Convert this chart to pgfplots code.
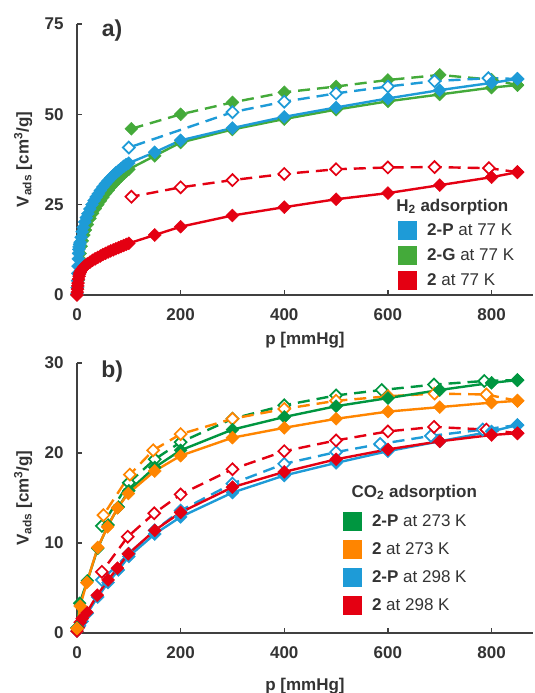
\documentclass[border=0pt]{standalone}
\usepackage{pgfplots}
\pgfplotsset{compat=1.18}
\usepackage{fontspec}
\setmainfont{Liberation Sans}

\definecolor{cblue}{RGB}{30,155,215}
\definecolor{cgreen}{RGB}{68,170,58}
\definecolor{cred}{RGB}{228,0,18}
\definecolor{cdgreen}{RGB}{0,150,64}
\definecolor{corange}{RGB}{255,133,0}
\definecolor{txt}{RGB}{51,51,51}
\definecolor{axc}{RGB}{64,64,64}

\newcommand\fs{\fontsize{17}{20}\selectfont}

\pgfplotsset{
  iso/.style={
    scale only axis, width=456pt,
    axis lines=left, axis line style={-, axc, line width=1.6pt},
    xmin=0, xmax=880, ymin=0,
    xtick={0,200,...,800},
    tick align=inside, major tick length=5pt,
    tick style={axc, line width=1.3pt},
    /pgf/number format/assume math mode=true,
    ticklabel style={font=\fs\bfseries, text=txt},
    xticklabel style={yshift=-10pt},
    yticklabel style={xshift=-10pt},
    ylabel={V\textsubscript{ads} [cm\textsuperscript{3}/g]},
    xlabel={p [mmHg]},
    every axis y label/.style={at={(axis description cs:-0.118,0.5)}, rotate=90, anchor=center, font=\fs\bfseries, text=txt},
    clip=false,
    legend cell align=left,
    legend style={draw=none, fill=none, inner sep=0pt, font=\fs, text=txt,
      anchor=north west, column sep=8pt, nodes={inner sep=2pt, text depth=0.15em}},
    legend image code/.code={\fill[draw=none] (0pt,-9.5pt) rectangle (19pt,9.5pt);},
  },
  ads/.style={#1, line width=2.4pt, mark=square*, mark size=4.6pt,
    mark options={rotate=45, fill=#1, draw=#1, line width=0.4pt, solid}},
  desf/.style={#1, line width=2.4pt, dash pattern=on 12pt off 7pt, mark=square*, mark size=4.6pt,
    mark options={rotate=45, fill=#1, draw=#1, line width=0.4pt, solid}},
  des/.style={#1, line width=2.4pt, dash pattern=on 12pt off 7pt, mark=square*, mark size=4.2pt,
    mark options={rotate=45, fill=white, draw=#1, line width=1.7pt, solid}},
}

\begin{document}
\begin{tikzpicture}
\path[use as bounding box] (0,0) rectangle (535pt,693pt);

% ---- a) H2 at 77 K
\begin{axis}[iso, at={(77pt,398pt)}, anchor=south west, height=271pt,
  ymax=75, ytick={0,25,50,75},
  every axis x label/.style={at={(axis description cs:0.5,-0.166)}, anchor=center, font=\fs\bfseries, text=txt},
  legend style={at={(rel axis cs:0.704,0.275)}, row sep=6pt}]
\addplot[desf=cgreen, forget plot] coordinates {(850,58.1) (800,59.6) (700,60.9) (600,59.5) (500,57.7) (400,56.1) (300,53.3) (200,50.0) (105,46.0)};
\addplot[des=cblue, forget plot] coordinates {(850,59.8) (794,60.0) (690,59.2) (600,57.7) (500,55.8) (400,53.5) (300,50.6) (100,40.8)};
\addplot[des=cred, forget plot] coordinates {(850,34.0) (795,35.1) (690,35.4) (600,35.3) (500,34.8) (400,33.5) (300,31.8) (200,29.8) (105,27.2)};
\addplot[ads=cgreen, forget plot] coordinates {(0,0.2) (1,2) (2,4) (3,6) (4,8) (5,10) (6,11.5) (8,13.5) (10,15) (13,16.6) (16,18) (20,19.5) (25,21.2) (30,22.6) (35,23.9) (40,25) (45,26.1) (50,27.1) (55,28.1) (60,29) (65,29.9) (70,30.7) (75,31.5) (80,32.2) (85,32.9) (90,33.6) (95,34.2) (100,34.8) (150,38.5) (200,42.2) (300,45.8) (400,48.7) (500,51.3) (600,53.6) (700,55.5) (800,57.4) (850,58.1)};
\addplot[ads=cblue, forget plot] coordinates {(0,0.3) (0.5,2) (1,4) (1.5,6) (2,8) (2.5,10) (3,11.5) (3.5,12.6) (4,13.3) (5,14) (6,14.6) (8,16) (10,17.5) (12,18.7) (15,20.2) (18,21.4) (21,22.5) (25,23.8) (29,25) (33,26.1) (37,27.1) (41,28) (45,28.9) (50,29.9) (55,30.8) (60,31.6) (65,32.4) (70,33.1) (75,33.8) (80,34.4) (85,35) (90,35.6) (95,36.1) (100,36.5) (150,39.5) (200,42.8) (300,46.2) (400,49.3) (500,51.9) (600,54.4) (700,56.7) (800,58.7) (850,59.8)};
\addplot[ads=cred, forget plot] coordinates {(0,0) (0.5,0.8) (1,1.6) (1.5,2.5) (2,3.3) (3,4.4) (4,5.2) (5,5.8) (6,6.2) (8,6.8) (10,7.2) (13,7.7) (16,8.1) (20,8.6) (25,9.1) (30,9.6) (35,10) (40,10.4) (45,10.8) (50,11.2) (55,11.5) (60,11.9) (65,12.2) (70,12.5) (75,12.8) (80,13.1) (85,13.4) (90,13.7) (95,14) (100,14.3) (150,16.6) (200,18.9) (300,22) (400,24.3) (500,26.5) (600,28.2) (700,30.4) (800,32.6) (850,34)};
\addlegendimage{cblue, fill=cblue}
\addlegendentry{\textbf{2-P} at 77 K}
\addlegendimage{cgreen, fill=cgreen}
\addlegendentry{\textbf{2-G} at 77 K}
\addlegendimage{cred, fill=cred}
\addlegendentry{\textbf{2} at 77 K}
\node[anchor=west, inner sep=0pt, font=\fs\bfseries, text=txt] at (rel axis cs:0.700,0.325) {H\textsubscript{2} adsorption};
\node[font=\fontsize{23}{26}\selectfont\bfseries, text=txt] at (rel axis cs:0.077,0.975) {a)};
\end{axis}

% ---- b) CO2
\begin{axis}[iso, at={(77pt,60pt)}, anchor=south west, height=270pt,
  ymax=30, ytick={0,10,20,30},
  every axis x label/.style={at={(axis description cs:0.5,-0.196)}, anchor=center, font=\fs\bfseries, text=txt},
  legend style={at={(rel axis cs:0.583,0.448)}, row sep=9pt}]
\addplot[des=cblue, forget plot] coordinates {(850,23.1) (783,22.6) (683,21.9) (585,21.0) (500,20.1) (400,18.8) (300,16.6) (200,13.6) (150,11.4) (100,8.8) (48,5.9)};
\addplot[des=cred, forget plot] coordinates {(850,22.2) (790,22.6) (689,22.9) (600,22.4) (500,21.4) (400,20.2) (300,18.2) (200,15.4) (149,13.3) (98,10.7) (48,6.8)};
\addplot[des=cdgreen, forget plot] coordinates {(850,28.1) (786,28.0) (689,27.6) (588,27.0) (500,26.4) (400,25.3) (300,23.8) (200,21.2) (150,19.3) (100,16.7) (48,11.9)};
\addplot[des=corange, forget plot] coordinates {(850,25.8) (790,26.5) (690,26.6) (600,26.3) (500,25.8) (400,24.9) (300,23.8) (200,22.1) (147,20.3) (102,17.6) (51,13.1)};
\addplot[ads=cblue, forget plot] coordinates {(0,0.2) (5,0.8) (10,1.3) (20,2.2) (40,4.0) (60,5.6) (80,7.0) (100,8.5) (150,11.0) (200,12.9) (300,15.6) (400,17.5) (500,18.9) (600,20.2) (700,21.3) (800,22.4) (850,23.1)};
\addplot[ads=cred, forget plot] coordinates {(0,0.2) (3,0.6) (6,1.2) (10,1.6) (19,2.3) (39,4.2) (60,5.9) (78,7.2) (99,8.8) (150,11.4) (200,13.4) (300,16.2) (400,17.9) (500,19.3) (600,20.4) (700,21.3) (800,22.0) (850,22.2)};
\addplot[ads=cdgreen, forget plot] coordinates {(0,0.6) (5,3.3) (20,5.8) (40,9.4) (60,12.0) (80,14.0) (100,15.8) (150,18.4) (200,20.3) (300,22.6) (400,24.0) (500,25.2) (600,26.1) (700,27.0) (800,27.8) (850,28.1)};
\addplot[ads=corange, forget plot] coordinates {(0,0.5) (6,3.0) (19,5.6) (40,9.5) (59,11.8) (78,13.9) (99,15.5) (150,18.0) (200,19.7) (300,21.7) (400,22.8) (500,23.8) (600,24.6) (700,25.1) (800,25.6) (850,25.8)};
\addlegendimage{cdgreen, fill=cdgreen}
\addlegendentry{\textbf{2-P} at 273 K}
\addlegendimage{corange, fill=corange}
\addlegendentry{\textbf{2} at 273 K}
\addlegendimage{cblue, fill=cblue}
\addlegendentry{\textbf{2-P} at 298 K}
\addlegendimage{cred, fill=cred}
\addlegendentry{\textbf{2} at 298 K}
\node[anchor=west, inner sep=0pt, font=\fs\bfseries, text=txt] at (rel axis cs:0.602,0.519) {CO\textsubscript{2} adsorption};
\node[font=\fontsize{23}{26}\selectfont\bfseries, text=txt] at (rel axis cs:0.077,0.967) {b)};
\end{axis}
\end{tikzpicture}
\end{document}
